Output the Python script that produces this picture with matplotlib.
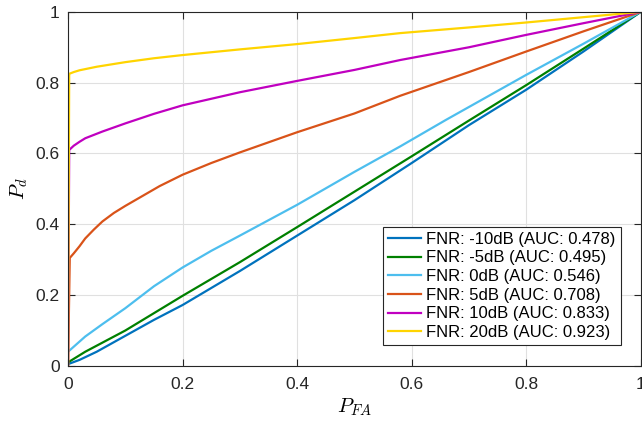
import numpy as np
import matplotlib
matplotlib.use('Agg')
import matplotlib.pyplot as plt

plt.rcParams['font.family'] = ['Liberation Sans', 'DejaVu Sans']
plt.rcParams['mathtext.fontset'] = 'cm'

# ROC curves (P_FA, P_d)
labels = ['FNR: -10dB (AUC: 0.478)', 'FNR: -5dB (AUC: 0.495)', 'FNR: 0dB (AUC: 0.546)',
          'FNR: 5dB (AUC: 0.708)', 'FNR: 10dB (AUC: 0.833)', 'FNR: 20dB (AUC: 0.923)']
colors = ['#0072BD', '#008000', '#4DBEEE', '#D95319', '#C000C0', '#FFD400']

pfa_m10 = [0, 0.02, 0.05, 0.1, 0.15, 0.2, 0.3, 0.4, 0.5, 0.6, 0.7, 0.8, 0.9, 1]
pd_m10 = [0.005, 0.017, 0.04, 0.085, 0.13, 0.172, 0.268, 0.368, 0.468, 0.573, 0.68, 0.78, 0.888, 1]

pfa_m5 = [0, 0.03, 0.1, 0.2, 0.3, 0.4, 0.5, 0.6, 0.7, 0.8, 0.9, 1]
pd_m5 = [0.01, 0.04, 0.1, 0.198, 0.293, 0.392, 0.492, 0.592, 0.693, 0.793, 0.896, 1]

pfa_0 = [0, 0.03, 0.06, 0.1, 0.15, 0.2, 0.25, 0.3, 0.4, 0.5, 0.58, 0.66, 0.8, 0.9, 1]
pd_0 = [0.04, 0.083, 0.118, 0.163, 0.225, 0.278, 0.325, 0.368, 0.455, 0.548, 0.62, 0.695, 0.822, 0.91, 1]

pfa_5 = [0, 0.003, 0.01, 0.02, 0.03, 0.045, 0.06, 0.08, 0.1, 0.13, 0.16, 0.2, 0.25, 0.3,
         0.4, 0.5, 0.58, 0.7, 0.8, 0.9, 1]
pd_5 = [0, 0.305, 0.318, 0.338, 0.36, 0.385, 0.408, 0.432, 0.452, 0.48, 0.508, 0.54, 0.573, 0.603,
        0.66, 0.713, 0.763, 0.83, 0.888, 0.945, 1]

pfa_10 = [0, 0.002, 0.01, 0.02, 0.03, 0.06, 0.1, 0.15, 0.2, 0.3, 0.4, 0.5, 0.58, 0.7, 0.8, 0.9, 1]
pd_10 = [0, 0.61, 0.622, 0.633, 0.643, 0.662, 0.685, 0.712, 0.736, 0.773, 0.805, 0.836, 0.864,
         0.9, 0.935, 0.968, 1]

pfa_20 = [0, 0.002, 0.01, 0.02, 0.05, 0.1, 0.15, 0.2, 0.3, 0.4, 0.5, 0.58, 0.7, 0.8, 0.9, 1]
pd_20 = [0, 0.825, 0.83, 0.835, 0.845, 0.858, 0.869, 0.878, 0.894, 0.909, 0.926, 0.94, 0.956,
         0.97, 0.985, 1]

curves = [(pfa_m10, pd_m10), (pfa_m5, pd_m5), (pfa_0, pd_0),
          (pfa_5, pd_5), (pfa_10, pd_10), (pfa_20, pd_20)]

fig = plt.figure(figsize=(6.42, 4.24), dpi=100)
ax = fig.add_axes([0.106, 0.137, 0.892, 0.835])

for (x, y), lab, c in zip(curves, labels, colors):
    ax.plot(x, y, color=c, lw=1.6, label=lab)

ax.set_xlim(0, 1)
ax.set_ylim(0, 1)
ticks = [0, 0.2, 0.4, 0.6, 0.8, 1]
ticklabels = ['0', '0.2', '0.4', '0.6', '0.8', '1']
ax.set_xticks(ticks)
ax.set_xticklabels(ticklabels)
ax.set_yticks(ticks)
ax.set_yticklabels(ticklabels)
ax.grid(True, color='#e0e0e0', lw=0.8)
ax.set_axisbelow(True)
ax.tick_params(direction='in', top=True, right=True, labelsize=12.5,
               colors='#262626', length=5, width=0.8)
ax.tick_params(axis='x', pad=8)
ax.tick_params(axis='y', pad=6)
for s in ax.spines.values():
    s.set_color('#262626')
    s.set_linewidth(0.8)

ax.set_xlabel('$P_{FA}$', fontsize=15, labelpad=3)
ax.set_ylabel('$P_d$', fontsize=15, labelpad=4)

leg = ax.legend(loc='lower right', bbox_to_anchor=(0.965, 0.059), borderaxespad=0,
                fontsize=12, handlelength=2.0, handletextpad=0.3, labelspacing=0.22,
                fancybox=False, framealpha=1, borderpad=0.3)
leg.get_frame().set_edgecolor('#262626')
leg.get_frame().set_linewidth(0.8)

plt.savefig('out.png', dpi=100)
